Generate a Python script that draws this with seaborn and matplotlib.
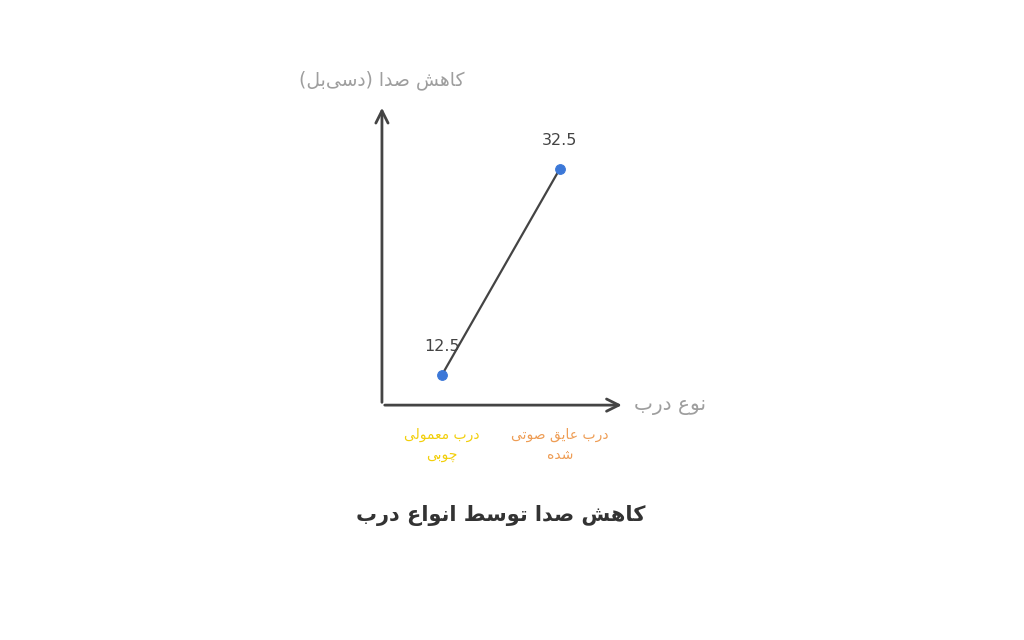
import numpy as np
import pandas as pd
import matplotlib
matplotlib.use('Agg')
import matplotlib.pyplot as plt
import seaborn as sns

# Data
DOOR_TYPES = ['درب معمولی\nچوبی', 'درب عایق صوتی\nشده']
NOISE_REDUCTION = [12.5, 32.5]
LABEL_COLORS = ['#f2cf0c', '#ee9d55']
TITLE = 'کاهش صدا توسط انواع درب'
X_LABEL = 'نوع درب'
Y_LABEL = 'کاهش صدا (دسی\u200cبل)'

# Minimal Persian shaping: (isolated, final, initial, medial)
FORMS = {
    'ا': ('\uFE8D', '\uFE8E', None, None),
    'ب': ('\uFE8F', '\uFE90', '\uFE91', '\uFE92'),
    'ت': ('\uFE95', '\uFE96', '\uFE97', '\uFE98'),
    'چ': ('\uFB7A', '\uFB7B', '\uFB7C', '\uFB7D'),
    'د': ('\uFEA9', '\uFEAA', None, None),
    'ر': ('\uFEAD', '\uFEAE', None, None),
    'س': ('\uFEB1', '\uFEB2', '\uFEB3', '\uFEB4'),
    'ش': ('\uFEB5', '\uFEB6', '\uFEB7', '\uFEB8'),
    'ص': ('\uFEB9', '\uFEBA', '\uFEBB', '\uFEBC'),
    'ط': ('\uFEC1', '\uFEC2', '\uFEC3', '\uFEC4'),
    'ع': ('\uFEC9', '\uFECA', '\uFECB', '\uFECC'),
    'ق': ('\uFED5', '\uFED6', '\uFED7', '\uFED8'),
    'ک': ('\uFB8E', '\uFB8F', '\uFB90', '\uFB91'),
    'ل': ('\uFEDD', '\uFEDE', '\uFEDF', '\uFEE0'),
    'م': ('\uFEE1', '\uFEE2', '\uFEE3', '\uFEE4'),
    'ن': ('\uFEE5', '\uFEE6', '\uFEE7', '\uFEE8'),
    'ه': ('\uFEE9', '\uFEEA', '\uFEEB', '\uFEEC'),
    'و': ('\uFEED', '\uFEEE', None, None),
    'ی': ('\uFBFC', '\uFBFD', '\uFBFE', '\uFBFF'),
}


def shape_line(text):
    out = []
    for i, ch in enumerate(text):
        if ch not in FORMS:
            if ch != '\u200c':
                out.append(ch)
            continue
        prev = text[i - 1] if i > 0 else ''
        nxt = text[i + 1] if i + 1 < len(text) else ''
        join_prev = prev in FORMS and FORMS[prev][2] is not None
        join_next = FORMS[ch][2] is not None and nxt in FORMS
        iso, fin, ini, med = FORMS[ch]
        if join_prev and join_next:
            out.append(med)
        elif join_prev:
            out.append(fin)
        elif join_next:
            out.append(ini)
        else:
            out.append(iso)
    s = ''.join(reversed(out))
    return s.translate(str.maketrans('()', ')('))


def fa(text):
    return '\n'.join(shape_line(line) for line in text.split('\n'))


sns.set_style('white')
plt.rcParams['font.family'] = ['DejaVu Sans']

df = pd.DataFrame({'pos': np.arange(len(DOOR_TYPES)), 'value': NOISE_REDUCTION})

fig = plt.figure(figsize=(10.24, 6.4), dpi=100)
ax = fig.add_axes([0.373, 0.367, 0.237, 0.469])

sns.lineplot(data=df, x='pos', y='value', ax=ax, color='#444444', linewidth=1.6,
             marker='o', markersize=7, markerfacecolor='#3c78d8',
             markeredgecolor='#3c78d8', zorder=3)

for x, v in zip(df['pos'], df['value']):
    ax.annotate(f'{v}', (x, v), xytext=(0, 15), textcoords='offset points',
                ha='center', va='bottom', fontsize=11.5, color='#444444')

ax.set_xlim(-0.508, 1.551)
ax.set_ylim(9.59, 38.72)
for s in ax.spines.values():
    s.set_visible(False)
ax.set_xticks([])
ax.set_yticks([])
ax.set_xlabel('')
ax.set_ylabel('')

# axis arrows
arrow = dict(arrowstyle='->', color='#444444', lw=2, mutation_scale=22)
ax.annotate('', xy=(1.0, 0), xytext=(0, 0), xycoords='axes fraction', arrowprops=arrow)
ax.annotate('', xy=(0, 1.0), xytext=(0, 0), xycoords='axes fraction', arrowprops=arrow)

# category labels
for x, lab, c in zip(df['pos'], DOOR_TYPES, LABEL_COLORS):
    ax.annotate(fa(lab), (x, 0), xycoords=('data', 'axes fraction'),
                xytext=(0, -16), textcoords='offset points', ha='center', va='top',
                fontsize=10, color=c, linespacing=1.6)

ax.text(1.04, 0, fa(X_LABEL), transform=ax.transAxes, ha='left', va='center',
        fontsize=14.5, color='#9e9e9e')
ax.text(0.0, 1.05, fa(Y_LABEL), transform=ax.transAxes, ha='center', va='bottom',
        fontsize=13.5, color='#9e9e9e')

fig.text(0.489, 0.195, fa(TITLE), ha='center', va='center', fontsize=15,
         fontweight='bold', color='#333333')

fig.savefig('out.png', dpi=100, facecolor='white')
